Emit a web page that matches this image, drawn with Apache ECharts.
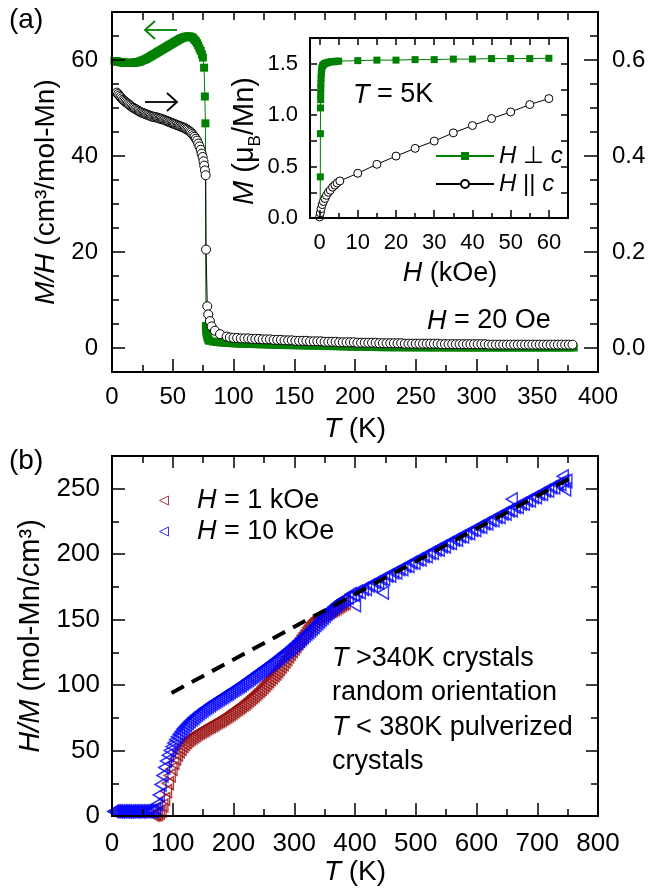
<!DOCTYPE html>
<html>
<head>
<meta charset="utf-8">
<script src="https://cdn.jsdelivr.net/npm/echarts@6/dist/echarts.min.js"></script>
<style>
html, body { margin: 0; padding: 0; background: #fff; }
#chart { width: 653px; height: 890px; }
</style>
</head>
<body>
<div id="chart"></div>
<script>
// ---------- (a) M/H vs T, H = 20 Oe ----------
// H perpendicular to c (left axis, cm^3/mol-Mn)
const aPerpT = [2,3,4,5,6,7,8,9,10,11,12,13,14,15,16,17,18,19,20,21,22,23,24,25,26,27,28,29,30,31,32,33,34,35,36,37,38,39,40,41,
  42,43,44,45,46,47,48,49,50,51,52,53,54,55,56,57,58,59,60,61,62,63,64,65,66,67,68,69,70,71,72,73,74,74.8,
  75.8,76.4,76.9,77.3,77.5,77.7,78,78.5,79,79.5,
  80,83,86,89,92,95,98,101,104,107,110,113,116,119,122,125,128,131,134,137,140,143,146,149,152,155,158,161,164,167,
  170,173,176,179,182,185,188,191,194,197,200,203,206,209,212,215,218,221,224,227,230,
  233,236,239,242,245,248,251,254,257,260,263,266,269,272,275,278,281,284,287,290,293,296,299,302,305,308,311,314,317,320,
  323,326,329,332,335,338,341,344,347,350,353,356,359,362,365,368,371,374,377,380];
const aPerpMH = [59.8,59.75,59.7,59.65,59.6,59.55,59.5,59.5,59.45,59.4,59.4,59.4,59.4,59.4,59.4,59.4,59.45,59.5,59.5,59.55,
  59.6,59.7,59.8,59.9,60.0,60.1,60.2,60.35,60.5,60.65,60.8,60.95,61.1,61.25,61.4,61.55,61.7,61.85,62.0,62.15,
  62.3,62.45,62.6,62.75,62.9,63.05,63.2,63.35,63.5,63.65,63.8,63.95,64.1,64.25,64.4,64.5,64.6,64.7,64.8,64.85,
  64.9,64.9,64.9,64.8,64.7,64.5,64.2,63.9,63.5,63.0,62.4,61.9,61.2,60.5,
  58.4,52.4,46.8,4.6,3.9,3.3,2.8,2.3,2.0,1.7,
  1.5,1.35,1.25,1.15,1.1,1.05,1.0,0.95,0.92,0.9,0.87,0.85,0.82,0.8,0.77,0.75,0.72,0.7,0.67,0.65,
  0.63,0.61,0.6,0.58,0.56,0.55,0.53,0.51,0.5,0.48,0.46,0.45,0.43,0.41,0.39,0.37,0.35,0.33,0.31,0.29,
  0.27,0.25,0.24,0.22,0.21,0.2,0.19,0.18,0.17,0.16,0.15,
  0.15,0.15,0.14,0.14,0.14,0.13,0.13,0.13,0.13,0.12,0.12,0.12,0.12,0.12,0.11,0.11,0.11,0.11,0.11,0.11,
  0.1,0.1,0.1,0.1,0.1,0.1,0.1,0.1,0.1,0.1,0.1,0.1,0.1,0.1,0.1,0.1,0.1,0.1,0.1,0.1,
  0.1,0.1,0.1,0.1,0.1,0.1,0.1,0.1,0.1,0.1];
// H parallel to c (right axis)
const aParT = [4,5,6,7,8,9,10,11,12,13,14,15,16,17,18,19,20,21,22,23,24,25,26,27,28,29,30,31,32,33,34,35,36,37,38,39,40,41,42,43,
  44,45,46,47,48,49,50,51,52,53,54,55,56,57,58,59,60,61,62,63,64,65,66,67,68,69,70,71,72,73,
  73.8,74.6,75.3,75.9,76.5,77.1,77.4,78.4,79.2,80.6,82,84.7,88.9,94.4,97,
  100,103,106,109,112,115,118,121,124,127,130,133,136,139,142,145,148,151,154,157,160,163,166,169,172,175,178,181,184,187,
  190,193,196,199,202,205,208,211,214,217,220,223,226,229,232,235,238,241,244,247,250,253,256,259,262,265,268,271,274,277,
  280,283,286,289,292,295,298,301,304,307,310,313,316,319,322,325,328,331,334,337,340,343,346,349,352,355,358,361,364,367,
  370,373,376,379];
const aParMH = [0.532,0.529,0.526,0.523,0.520,0.517,0.515,0.513,0.511,0.509,0.507,0.505,0.503,0.501,0.500,0.498,0.497,0.495,0.494,0.492,
  0.491,0.490,0.489,0.488,0.487,0.486,0.485,0.484,0.483,0.482,0.482,0.481,0.481,0.480,0.479,0.478,0.478,0.477,0.476,0.475,
  0.474,0.473,0.472,0.471,0.470,0.469,0.468,0.467,0.466,0.465,0.464,0.463,0.462,0.461,0.460,0.459,0.458,0.456,0.455,0.453,
  0.451,0.449,0.446,0.443,0.440,0.436,0.432,0.426,0.420,0.413,
  0.405,0.398,0.389,0.380,0.370,0.360,0.205,0.087,0.070,0.056,0.045,0.036,0.029,0.024,0.022,
  0.021,0.021,0.020,0.020,0.020,0.019,0.019,0.019,0.018,0.018,0.018,0.017,0.017,0.017,0.016,0.016,0.016,0.015,0.015,0.015,
  0.015,0.014,0.014,0.014,0.014,0.013,0.013,0.013,0.013,0.012,0.012,0.012,0.012,0.012,0.011,0.011,0.011,0.011,0.011,0.011,
  0.010,0.010,0.010,0.010,0.010,0.010,0.010,0.009,0.009,0.009,0.009,0.009,0.009,0.009,0.009,0.009,0.009,0.008,0.008,0.008,
  0.008,0.008,0.008,0.008,0.008,0.008,0.008,0.008,0.008,0.008,0.007,0.007,0.007,0.007,0.007,0.007,0.007,0.007,0.007,0.007,
  0.007,0.007,0.007,0.007,0.007,0.007,0.007,0.007,0.007,0.007,0.007,0.007,0.007,0.007];

// ---------- inset: M vs H at T = 5 K ----------
const insPerpH = [0.15,0.2,0.22,0.25,0.28,0.3,0.32,0.35,0.4,0.45,0.5,0.6,0.8,1.0,1.3,1.6,2.0,2.5,3.0,3.5,4.0,4.5,5.0,10,15,20,25,30,35,40,45,50,55,60];
const insPerpM = [0.02,0.40,0.82,1.07,1.15,1.21,1.26,1.31,1.36,1.40,1.43,1.46,1.48,1.49,1.50,1.505,1.51,1.515,1.52,1.52,1.52,1.525,1.525,1.53,1.535,1.535,1.54,1.54,1.545,1.545,1.55,1.55,1.55,1.553];
const insParH  = [0,0.2,0.4,0.7,1.0,1.4,1.8,2.3,2.8,3.4,4.0,4.6,5.3,10,15,20,25,30,35,40,45,50,55,60];
const insParM  = [0.01,0.05,0.09,0.13,0.16,0.19,0.22,0.25,0.27,0.30,0.32,0.34,0.36,0.435,0.522,0.602,0.677,0.748,0.828,0.899,0.967,1.031,1.103,1.161];

// ---------- (b) H/M vs T ----------
// H = 1 kOe
const b1T = [68,71,74,77,80,83,86,89,92,95,98,101,104,107,110,113,116,119,122,125,128,131,134,137,140,143,146,149,152,155,
  158,161,164,167,170,173,176,179,182,185,188,191,194,197,200,203,206,209,212,215,218,221,224,227,230,233,236,239,242,245,
  248,251,254,257,260,263,266,269,272,275,278,281,284,287,290,293,296,299,302,305,308,311,314,317,320,323,326,329,332,335,
  338,341,344,347,350,353,356,359,362,365,368,371,374,377,380,383];
const b1HM = [1,1.2,1.5,2.5,4,8,13,19,25,31,36,40.5,44,47,49.5,51.5,53.5,55,56.5,58,59,60,61,62,63,63.8,64.6,65.4,66.2,67,
  67.8,68.6,69.4,70.2,71,71.8,72.6,73.4,74.3,75.2,76.1,77,78,79,80,81,82,83,84,85,86,87.2,88.4,89.6,90.8,92,93.2,94.5,95.8,97,
  98.5,100,101.5,103,104.5,106,107.5,109,110.7,112.4,114.2,116,118,120,122,124,126,128,130,132,134,136,138,140,142,144,145.8,147.5,149,150.3,
  151.5,152.5,153.3,154,154.7,155.3,156,156.6,157.3,158,158.8,159.7,160.6,161.5,162.3,163];
// H = 10 kOe
const b10T = [2,5,8,11,14,17,20,23,26,29,32,35,38,41,44,47,50,53,56,59,62,65,
  68,71,74,77,80,83,86,89,92,95,98,101,104,107,110,113,116,119,122,125,128,131,134,137,140,143,146,149,152,155,
  158,161,164,167,170,173,176,179,182,185,188,191,194,197,200,203,206,209,212,215,218,221,224,227,230,233,236,239,242,245,
  248,251,254,257,260,263,266,269,272,275,278,281,284,287,290,293,296,299,302,305,308,311,314,317,320,323,326,329,332,335,
  338,341,344,347,350,353,356,359,362,365,368,371,374,377,380,383,
  388,393,398,403,408,413,418,423,428,433,438,443,448,453,458,463,468,473,478,483,488,493,498,503,508,513,518,523,528,533,
  538,543,548,553,558,563,568,573,578,583,588,593,598,603,608,613,618,623,628,633,638,643,648,653,658,663,668,673,678,683,
  688,693,698,703,708,713,718,723,728,733,738,743,748,
  400,446,658,742,746];
const b10HM = [3.5,3.6,3.5,3.4,3.5,3.6,3.5,3.5,3.4,3.5,3.6,3.5,3.5,3.6,3.5,3.5,3.6,3.6,3.7,3.7,3.8,3.8,
  4,5.5,9,16,24,31,37,42,46.5,50,53,55.8,58.3,60.6,62.7,64.6,66.4,68,69.6,71,72.4,73.7,75,76.2,77.4,78.5,79.6,80.7,81.7,82.7,
  83.7,84.7,85.6,86.5,87.4,88.3,89.2,90.1,91,91.9,92.8,93.7,94.6,95.5,96.4,97.3,98.2,99.1,100,101,102,103,104,105,106,107,108,109,110,111,
  112,113,114,115,116,117,118,119.1,120.2,121.3,122.4,123.5,124.6,125.7,126.8,128,129.2,130.4,131.6,132.8,134,135.3,136.6,137.9,139.2,140.5,141.8,143.1,144.5,145.9,
  147.3,148.7,150.1,151.5,152.9,154.3,155.7,157.1,158.5,159.8,161,162.2,163.3,164.3,165.3,166,
  167,169.5,169,171.5,171,173.5,173.5,176,176,178.5,178.5,181,181,183.5,183.5,186,186,188.5,188.5,191,191,193.5,193.5,196,196,198.5,198.5,201,201,203.5,
  203.5,206,206,208.5,208.5,211,211,213.5,213.5,216,216,218.5,218.5,221,221,223.5,223.5,226,226,228.5,228.5,231,231,233.5,233.5,236,236,238.5,238.5,241,
  241,243.5,243.5,246,246,248.5,248.5,251,251,253.5,253.5,256,256,
  161,170.5,242,259.5,249.5];
// Curie-Weiss fit line end points
const fitT  = [98, 762];
const fitHM = [94, 260];

// ---------- tick labels ----------
const aTTicks     = [0,50,100,150,200,250,300,350,400];
const aLeftTicks  = [0,20,40,60];
const aRightTicks = [0.0,0.2,0.4,0.6];
const insHTicks   = [0,10,20,30,40,50,60];
const insMTicks   = [0.0,0.5,1.0,1.5];
const bTTicks     = [0,100,200,300,400,500,600,700,800];
const bHMTicks    = [0,50,100,150,200,250];

// ---------- helpers ----------
const FONT = 'Liberation Sans';
const zip = (xs, ys) => xs.map((x, i) => [x, ys[i]]);
function steps(a, b, s) { const r = []; for (let k = 0; a + k * s <= b + 1e-9; k++) r.push(+(a + k * s).toFixed(4)); return r; }
function minorOnly(a, b, s, major) {
  return steps(a, b, s).filter(v => Math.abs(v / major - Math.round(v / major)) > 1e-6);
}
const italic = { fontStyle: 'italic', fontFamily: FONT };

function axis(grid, pos, min, max, ticks, len, extra) {
  return Object.assign({
    type: 'value', gridIndex: grid, position: pos, min: min, max: max,
    axisLine: { show: true, onZero: false, lineStyle: { color: '#000', width: 2 } },
    axisTick: { show: true, inside: true, length: len, customValues: ticks, lineStyle: { color: '#000', width: 1.5 } },
    axisLabel: { show: false },
    splitLine: { show: false },
    z: 5
  }, extra || {});
}
function labels(values, size, margin, fmt) {
  return { show: true, customValues: values, fontSize: size, fontFamily: FONT, color: '#000', margin: margin,
           formatter: fmt || (v => String(v)) };
}
function axisName(text, size, gap, rich, pad) {
  return { name: text, nameLocation: 'middle', nameGap: gap,
           nameTextStyle: { fontSize: size, fontFamily: FONT, color: '#000', rich: rich, padding: pad || 0 } };
}
const fix1 = v => v.toFixed(1);

const xAxes = [
  // (a)
  axis(0, 'bottom', 0, 400, aTTicks, 13, Object.assign({ axisLabel: labels(aTTicks, 24, 13) },
       axisName('{i|T} (K)', 28, 43, { i: Object.assign({ fontSize: 28 }, italic) }))),
  axis(0, 'bottom', 0, 400, minorOnly(0, 400, 25, 50), 7),
  axis(0, 'top', 0, 400, steps(25, 375, 25), 8),
  // inset
  axis(1, 'bottom', -2.5, 65, insHTicks, 8, Object.assign({ axisLabel: labels(insHTicks, 22, 14) },
       axisName('{i|H} (kOe)', 27, 42, { i: Object.assign({ fontSize: 27 }, italic) }, [0, 0, 0, 22]))),
  axis(1, 'bottom', -2.5, 65, minorOnly(0, 65, 5, 10), 5),
  axis(1, 'top', -2.5, 65, steps(0, 65, 5), 7),
  // (b)
  axis(2, 'bottom', 0, 800, bTTicks, 13, Object.assign({ axisLabel: labels(bTTicks, 26, 15) },
       axisName('{i|T} (K)', 28, 39, { i: Object.assign({ fontSize: 28 }, italic) }))),
  axis(2, 'bottom', 0, 800, minorOnly(0, 800, 50, 100), 7),
  axis(2, 'top', 0, 800, steps(100, 700, 100), 12),
  axis(2, 'top', 0, 800, minorOnly(0, 800, 50, 100), 7)
];
const yAxes = [
  // (a)
  axis(0, 'left', -5, 70, aLeftTicks, 13, Object.assign({ axisLabel: labels(aLeftTicks, 24, 14) },
       axisName('{i|M/H} (cm³/mol-Mn)', 28, 36, { i: Object.assign({ fontSize: 28 }, italic) }))),
  axis(0, 'left', -5, 70, minorOnly(5, 65, 5, 20), 7),
  axis(0, 'right', -0.05, 0.7, aRightTicks, 14, { axisLabel: labels(aRightTicks, 24, 14, fix1) }),
  axis(0, 'right', -0.05, 0.7, minorOnly(0.05, 0.65, 0.05, 0.2), 8),
  // inset
  axis(1, 'left', 0, 1.75, steps(0, 1.75, 0.25), 7, Object.assign({ axisLabel: labels(insMTicks, 22, 12, fix1) },
       axisName('{i|M} (μ{s|B}/Mn)', 29, 45, {
         i: Object.assign({ fontSize: 29 }, italic),
         s: { fontSize: 17, fontFamily: FONT, verticalAlign: 'bottom', lineHeight: 38 }
       }, [0, 26, 0, 0]))),
  axis(1, 'right', 0, 1.75, steps(0, 1.75, 0.25), 7),
  // (b)
  axis(2, 'left', 0, 275, bHMTicks, 13, Object.assign({ axisLabel: labels(bHMTicks, 26, 12) },
       axisName('{i|H/M} (mol-Mn/cm³)', 29, 62, { i: Object.assign({ fontSize: 29 }, italic) }))),
  axis(2, 'left', 0, 275, minorOnly(25, 275, 25, 50), 7),
  axis(2, 'right', 0, 275, steps(50, 250, 50), 12),
  axis(2, 'right', 0, 275, minorOnly(25, 275, 25, 50), 7)
];

const GREEN = '#008000', DARKRED = '#9b1111', BLUE = '#0000ff';
const triLeft = 'path://M0,5L10,0L10,10Z';

const series = [
  { name: 'perp20', type: 'line', xAxisIndex: 0, yAxisIndex: 0, data: zip(aPerpT, aPerpMH),
    symbol: 'rect', symbolSize: 8, itemStyle: { color: GREEN }, lineStyle: { color: GREEN, width: 1 }, z: 2 },
  { name: 'par20', type: 'line', xAxisIndex: 0, yAxisIndex: 2, data: zip(aParT, aParMH),
    symbol: 'circle', symbolSize: 9, itemStyle: { color: '#fff', borderColor: '#000', borderWidth: 1 },
    lineStyle: { color: '#000', width: 1 }, z: 3 },
  { name: 'H ⊥ c', type: 'line', xAxisIndex: 3, yAxisIndex: 4, data: zip(insPerpH, insPerpM),
    symbol: 'rect', symbolSize: 7, itemStyle: { color: GREEN }, lineStyle: { color: GREEN, width: 1 }, z: 2 },
  { name: 'H || c', type: 'line', xAxisIndex: 3, yAxisIndex: 4, data: zip(insParH, insParM),
    symbol: 'circle', symbolSize: 8, itemStyle: { color: '#fff', borderColor: '#000', borderWidth: 1 },
    lineStyle: { color: '#000', width: 1 }, z: 3 },
  { name: 'H = 1 kOe', type: 'scatter', xAxisIndex: 6, yAxisIndex: 6, data: zip(b1T, b1HM),
    symbol: triLeft, symbolSize: [11, 13], symbolKeepAspect: true,
    itemStyle: { color: 'rgba(0,0,0,0)', borderColor: DARKRED, borderWidth: 1.5 }, z: 2 },
  { name: 'H = 10 kOe', type: 'scatter', xAxisIndex: 6, yAxisIndex: 6, data: zip(b10T, b10HM),
    symbol: triLeft, symbolSize: [11, 13], symbolKeepAspect: true,
    itemStyle: { color: 'rgba(0,0,0,0)', borderColor: BLUE, borderWidth: 1.5 }, z: 3 },
  { name: 'fit', type: 'line', xAxisIndex: 6, yAxisIndex: 6, data: zip(fitT, fitHM),
    symbol: 'none', lineStyle: { color: '#000', width: 4, type: [14, 9] }, z: 4 }
];

function legendText(size) {
  return { fontSize: size, fontFamily: FONT, color: '#000', rich: { i: Object.assign({ fontSize: size }, italic) } };
}
const legends = [
  { data: ['H ⊥ c', 'H || c'], orient: 'vertical', left: 430, top: 139, itemWidth: 58, itemHeight: 10, itemGap: 4,
    selectedMode: false, textStyle: legendText(24),
    formatter: n => n.replace(/^H/, '{i|H}').replace(/c$/, '{i|c}') },
  { data: [{ name: 'H = 1 kOe', itemStyle: { borderWidth: 1 } }, { name: 'H = 10 kOe', itemStyle: { borderWidth: 1 } }],
    orient: 'vertical', left: 154, top: 482, itemWidth: 56, itemHeight: 9, itemGap: 4,
    selectedMode: false, textStyle: legendText(27),
    formatter: n => n.replace(/^H/, '{i|H}') }
];

function label(x, y, text, size, extra) {
  return Object.assign({ type: 'text', x: x, y: y, z: 10,
    style: { text: text, fontSize: size, fontFamily: FONT, fill: '#000', textVerticalAlign: 'middle',
             rich: { i: Object.assign({ fontSize: size }, italic) } } }, extra || {});
}
function stroke(points, color) {
  return { type: 'polyline', z: 10, shape: { points: points }, style: { stroke: color, lineWidth: 1.8, fill: null } };
}

const noteText = '{i|T} >340K crystals\nrandom orientation\n{i|T} < 380K pulverized\ncrystals';
const graphics = [
  label(9, 20, '(a)', 28),
  label(9, 461, '(b)', 28),
  // direction arrows: which axis each curve belongs to
  stroke([[177, 30], [145, 30]], GREEN),
  stroke([[155, 21], [145, 30], [155, 39]], GREEN),
  stroke([[145, 102], [177, 102]], '#000'),
  stroke([[167, 93], [177, 102], [167, 111]], '#000'),
  label(427, 321, '{i|H} = 20 Oe', 27),
  label(353, 95, '{i|T} = 5K', 27),
  { type: 'text', x: 332, y: 641, z: 10,
    style: { text: noteText, fontSize: 27, fontFamily: FONT, fill: '#000', textVerticalAlign: 'top', lineHeight: 34.5,
             rich: { i: Object.assign({ fontSize: 27, lineHeight: 34.5 }, italic) } } }
];

const chart = echarts.init(document.getElementById('chart'), null, { renderer: 'canvas' });
chart.setOption({
  animation: false,
  backgroundColor: '#fff',
  textStyle: { fontFamily: FONT },
  grid: [
    { left: 112, top: 12, width: 486, height: 360 },
    { left: 310, top: 38, width: 258, height: 180 },
    { left: 112, top: 456, width: 486, height: 360 }
  ],
  xAxis: xAxes,
  yAxis: yAxes,
  legend: legends,
  series: series,
  graphic: graphics
});
</script>
</body>
</html>
